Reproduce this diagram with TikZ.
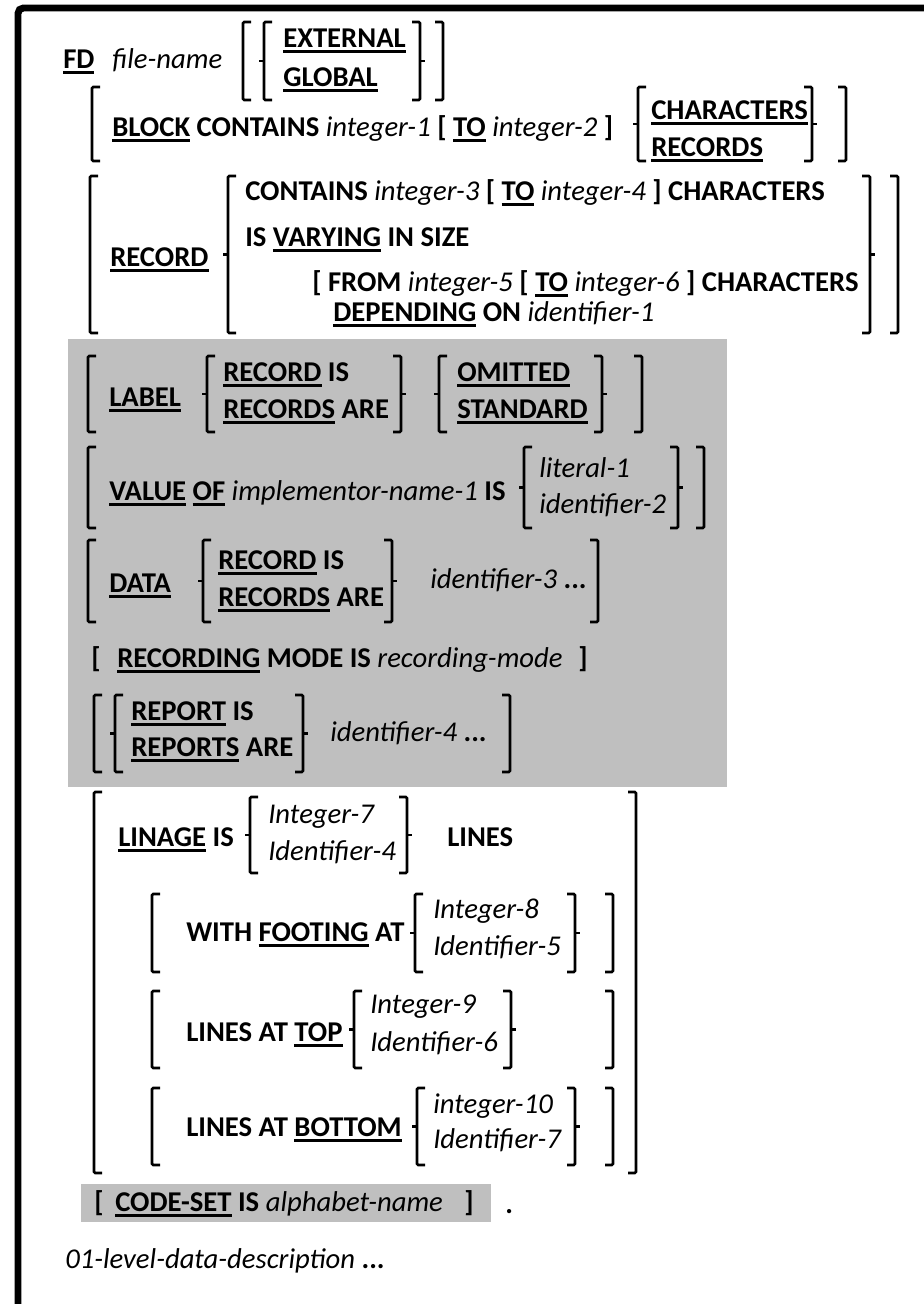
\documentclass[tikz,border=0pt]{standalone}
\usepackage{fontspec}
\setmainfont{Carlito}
\definecolor{boxgray}{RGB}{191,191,191}
\newcommand{\ul}[1]{\setbox0=\hbox{#1}\rlap{\rule[-4.4pt]{\wd0}{2.2pt}}\box0\relax}
\newcommand{\var}[1]{{\mdseries\itshape #1}}
% bracket pieces: x, top y, bottom y
\newcommand{\lsq}[3]{\draw[brk] (#1+8,#2) -- (#1,#2) -- (#1,#3) -- (#1+8,#3);}
\newcommand{\rsq}[3]{\draw[brk] (#1-8,#2) -- (#1,#2) -- (#1,#3) -- (#1-8,#3);}
\newcommand{\lbr}[3]{\lsq{#1}{#2}{#3}\draw[brk] (#1,{(#2+#3)/2}) -- (#1-5,{(#2+#3)/2});}
\newcommand{\rbr}[3]{\rsq{#1}{#2}{#3}\draw[brk] (#1,{(#2+#3)/2}) -- (#1+5,{(#2+#3)/2});}

\begin{document}
\begin{tikzpicture}[x=0.75pt, y=-0.75pt,
    every node/.style={inner sep=0, anchor=base west, font=\fontsize{21.5}{25}\selectfont\bfseries},
    brk/.style={line width=2pt, rounded corners=1pt}]
    \useasboundingbox (0,0) rectangle (924,1304);
    \draw[line width=5.2pt, rounded corners=4pt] (18,1310) -- (18,8) -- (930,8);

    % FD
    \node (fd) at (63,68) {\ul{FD}};
    \node (fname) at (112,68) {\var{file-name}};
    \lsq{243}{22}{100} \lbr{264}{22}{100}
    \node (ext) at (283,47) {\ul{EXTERNAL}};
    \node (glob) at (283,86) {\ul{GLOBAL}};
    \rbr{420}{22}{100} \rsq{443}{22}{100}

    % BLOCK
    \lsq{92}{87}{161}
    \node (block) at (112,136) {\ul{BLOCK} CONTAINS \var{integer-1} [ \ul{TO} \var{integer-2} ]};
    \lbr{638}{87}{161}
    \node (chars) at (651,119) {\ul{CHARACTERS}};
    \node (recs) at (651,156) {\ul{RECORDS}};
    \rbr{812}{87}{161} \rsq{846}{87}{161}

    % RECORD
    \lsq{90}{176}{333}
    \node (rec) at (110,266) {\ul{RECORD}};
    \lbr{228}{176}{333}
    \node (cont) at (245,200) {CONTAINS \var{integer-3} [ \ul{TO} \var{integer-4} ] CHARACTERS};
    \node (vary) at (245,246) {IS \ul{VARYING} IN SIZE};
    \node (from) at (312,291) {[ FROM \var{integer-5} [ \ul{TO} \var{integer-6} ] CHARACTERS};
    \node (dep) at (333,321) {\ul{DEPENDING} ON \var{identifier-1}};
    \rbr{870}{176}{333} \rsq{898}{176}{333}

    \fill[boxgray] (68,339) rectangle (727,787);

    % LABEL
    \lsq{88}{356}{432}
    \node (label) at (109,406) {\ul{LABEL}};
    \lbr{207}{356}{432}
    \node (lrec) at (223,381) {\ul{RECORD} IS};
    \node (lrecs) at (223,418) {\ul{RECORDS} ARE};
    \rbr{401}{356}{432}
    \lbr{439}{356}{432}
    \node (omit) at (457,381) {\ul{OMITTED}};
    \node (std) at (457,418) {\ul{STANDARD}};
    \rbr{602}{356}{432} \rsq{642}{356}{432}

    % VALUE OF
    \lsq{88}{447}{528}
    \node (value) at (109,500) {\ul{VALUE} \ul{OF} \var{implementor-name-1} IS};
    \lbr{524}{447}{528}
    \node (lit) at (539,477) {\var{literal-1}};
    \node (id2) at (539,513) {\var{identifier-2}};
    \rbr{678}{447}{528} \rsq{704}{447}{528}

    % DATA
    \lsq{88}{540}{622}
    \node (data) at (109,592) {\ul{DATA}};
    \lbr{203}{540}{622}
    \node (drec) at (218,569) {\ul{RECORD} IS};
    \node (drecs) at (218,606) {\ul{RECORDS} ARE};
    \rbr{392}{540}{622}
    \node (id3) at (430,588) {\var{identifier-3} ...};
    \rsq{598}{540}{622}

    % RECORDING MODE
    \node (mlb) at (91,667) {[};
    \node (mode) at (117,667) {\ul{RECORDING} MODE IS \var{recording-mode}};
    \node (mrb) at (578,667) {]};

    % REPORT
    \lsq{94}{695}{772}
    \lbr{115}{695}{772}
    \node (rep) at (131,720) {\ul{REPORT} IS};
    \node (reps) at (131,756) {\ul{REPORTS} ARE};
    \rbr{303}{695}{772}
    \node (id4) at (330,741) {\var{identifier-4} ...};
    \rsq{510}{695}{772}

    % LINAGE
    \lsq{94}{792}{1173}
    \node (linage) at (118,846) {\ul{LINAGE} IS};
    \lbr{250}{797}{873}
    \node (int7) at (268,823) {\var{Integer-7}};
    \node (id4b) at (268,860) {\var{Identifier-4}};
    \rbr{407}{797}{873}
    \node (lines) at (447,846) {LINES};
    \rsq{636}{792}{1173}

    \lsq{152}{894}{972}
    \node (foot) at (186,941) {WITH \ul{FOOTING} AT};
    \lbr{415}{894}{972}
    \node (int8) at (433,918) {\var{Integer-8}};
    \node (id5) at (433,955) {\var{Identifier-5}};
    \rbr{575}{894}{972} \rsq{613}{894}{972}

    \lsq{152}{991}{1068}
    \node (top) at (186,1041) {LINES AT \ul{TOP}};
    \lbr{354}{991}{1068}
    \node (int9) at (370,1013) {\var{Integer-9}};
    \node (id6) at (370,1051) {\var{Identifier-6}};
    \rbr{511}{991}{1068} \rsq{613}{991}{1068}

    \lsq{152}{1088}{1165}
    \node (bot) at (186,1136) {LINES AT \ul{BOTTOM}};
    \lbr{417}{1088}{1165}
    \node (int10) at (433,1113) {\var{integer-10}};
    \node (id7) at (433,1148) {\var{Identifier-7}};
    \rbr{575}{1088}{1165} \rsq{613}{1088}{1165}

    % CODE-SET
    \fill[boxgray] (81,1184) rectangle (491,1222);
    \node (clb) at (94,1211) {[};
    \node (code) at (115,1211) {\ul{CODE-SET} IS \var{alphabet-name}};
    \node (crb) at (464,1211) {]};
    \node (dot) at (505,1213) {.};

    \node (lvl) at (65,1268) {\var{01-level-data-description} ...};
\end{tikzpicture}
\end{document}
